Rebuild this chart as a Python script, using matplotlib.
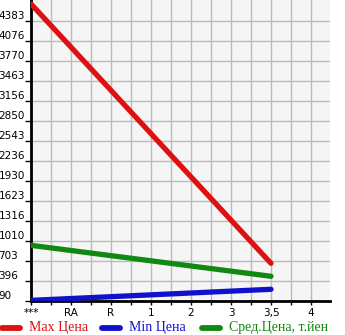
import numpy as np
import matplotlib.pyplot as plt

# categories on the x axis
categories = ["***", "RA", "R", "1", "2", "3", "3,5", "4"]
# values only exist for "***" and "3,5"
max_price = [4640, None, None, None, None, None, 663, None]
min_price = [95, None, None, None, None, None, 265, None]
avg_price = [939, None, None, None, None, None, 464, None]
y_ticks = [90, 396, 703, 1010, 1316, 1623, 1930, 2236, 2543, 2850,
           3156, 3463, 3770, 4076, 4383]

fig = plt.figure(figsize=(3.45, 3.35), dpi=100)
ax = fig.add_axes([31 / 345, 1 - 300.7 / 335, 299 / 345, 300.7 / 335])
ax.set_facecolor("#f5f5f5")

def pts(vals):
    xs = [i for i, v in enumerate(vals) if v is not None]
    ys = [v for v in vals if v is not None]
    return xs, ys

for vals, col in [(max_price, "#dd1111"), (min_price, "#1111cc"), (avg_price, "#118811")]:
    xs, ys = pts(vals)
    ax.plot(xs, ys, color=col, lw=3.8, solid_capstyle="round", zorder=3, clip_on=True)

ax.set_xlim(0, 7.475)
ax.set_ylim(90, 4700)

ax.set_xticks(np.arange(0, 7.5, 0.5), minor=True)
ax.set_xticks(range(len(categories)))
ax.set_xticklabels(categories, fontsize=7.5, family="DejaVu Sans")
ax.set_yticks(y_ticks)
ax.set_yticklabels([str(v) for v in y_ticks], fontsize=7.5, family="DejaVu Sans",
                   ha="left", va="bottom")
ax.tick_params(axis="y", length=4, width=1, pad=19.4)
ax.tick_params(axis="x", which="both", length=3, width=1, pad=2)
ax.grid(True, which="both", axis="x", color="#bbbbbb", lw=1)
ax.grid(True, which="major", axis="y", color="#bbbbbb", lw=1)
ax.set_axisbelow(True)

for s in ["top", "right"]:
    ax.spines[s].set_visible(False)
for s in ["left", "bottom"]:
    ax.spines[s].set_linewidth(2)
    ax.spines[s].set_color("black")

# legend along the bottom
legend_items = [("Max Цена", "#dd1111", 0.0, 29), ("Min Цена", "#1111cc", 100, 129),
                ("Сред.Цена, т.йен", "#118811", 200, 229)]
for label, col, x0, xt in legend_items:
    fig.lines.append(plt.Line2D([(x0 + 2) / 345, (x0 + 20) / 345], [1 - 328 / 335] * 2,
                                transform=fig.transFigure, color=col, lw=4.2,
                                solid_capstyle="round"))
    fig.text(xt / 345, 1 - 328 / 335, label, color=col, fontsize=10,
             family="Liberation Serif", va="center", ha="left")

plt.savefig("out.png", dpi=100)
